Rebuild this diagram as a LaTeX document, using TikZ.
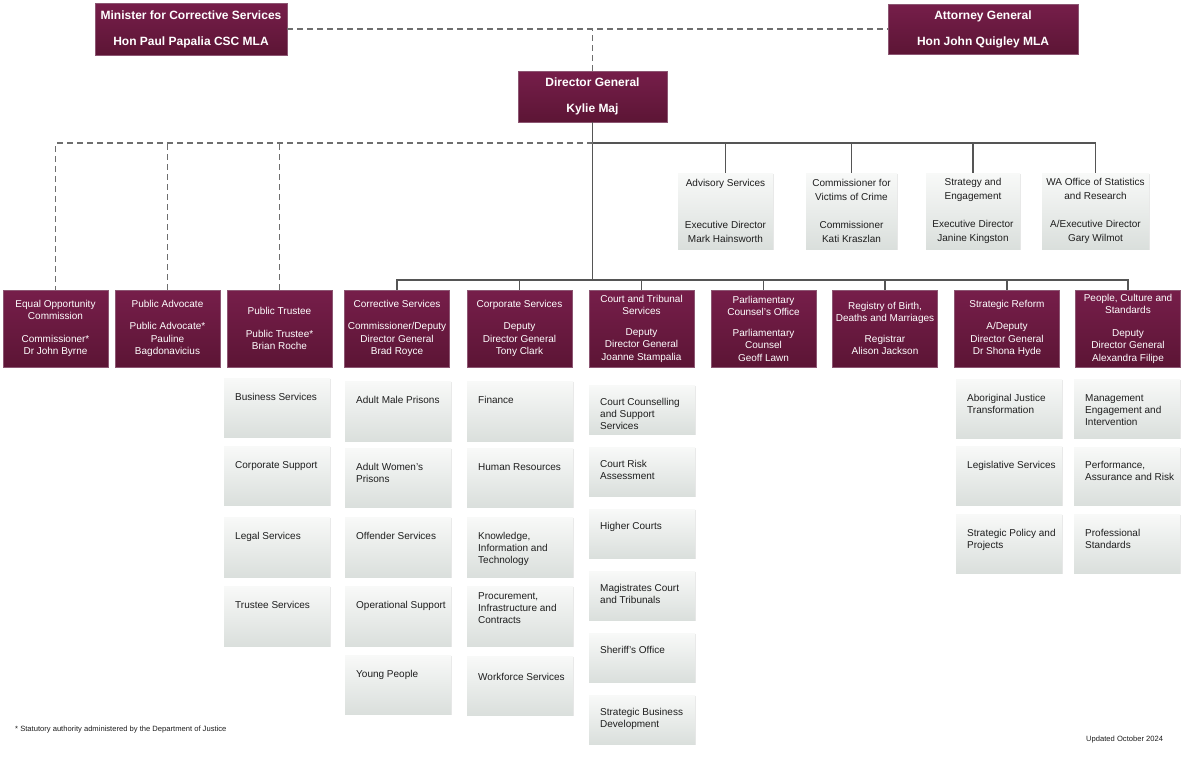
\documentclass[tikz,border=0pt]{standalone}
\usepackage{fontspec}
\setmainfont{Liberation Sans}
\usetikzlibrary{shadows}
\definecolor{maroonlight}{HTML}{761E4A}
\definecolor{maroondark}{HTML}{5C1535}
\definecolor{maroonedge}{HTML}{8C5672}
\definecolor{unitlight}{HTML}{F8F9F8}
\definecolor{unitdark}{HTML}{DADFDC}
\definecolor{linegray}{HTML}{555555}
\definecolor{dashgray}{HTML}{6E6E6E}
\definecolor{textdark}{HTML}{1E1E1E}
\tikzset{
  topbox/.style={
    rectangle, draw=maroonedge, line width=0.5pt,
    top color=maroonlight, bottom color=maroondark,
    text=white, align=center, inner sep=1pt,
    font=\bfseries\fontsize{12}{14}\selectfont
  },
  leadbox/.style={
    rectangle, draw=maroonedge, line width=0.5pt,
    top color=maroonlight, bottom color=maroondark,
    text=white, align=center, inner sep=1pt,
    minimum width=105pt, minimum height=77pt,
    font=\fontsize{10}{12.5}\selectfont
  },
  advbox/.style={
    rectangle, top color=unitlight, bottom color=unitdark,
    drop shadow={shadow xshift=1.2pt, shadow yshift=-1.2pt, opacity=0.18},
    text=textdark, align=center, inner sep=1pt, minimum height=76pt,
    font=\fontsize{10}{14}\selectfont
  },
  unitbox/.style={
    rectangle, anchor=north west, top color=unitlight, bottom color=unitdark,
    drop shadow={shadow xshift=1.2pt, shadow yshift=-1.2pt, opacity=0.18},
    text=textdark, inner sep=0pt,
    font=\fontsize{10}{12}\selectfont
  },
  link/.style={draw=linegray, line width=1.2pt},
  dashlink/.style={draw=dashgray, line width=1.2pt, dash pattern=on 6pt off 4pt},
  note/.style={anchor=west, inner sep=0pt, text=textdark, font=\fontsize{7.6}{9}\selectfont}
}
\newcommand{\unitlbl}[3][15pt]{\parbox[c][#2][t]{106pt}{\raggedright\leftskip=11pt\vspace*{#1}#3}}

\begin{document}
\begin{tikzpicture}[x=1pt, y=-1pt]
\fill[white, use as bounding box] (0,0) rectangle (1189,756);
\node[topbox, minimum width=192pt, minimum height=52pt] (minister) at (191,29) {Minister for Corrective Services\\[12pt]Hon Paul Papalia CSC MLA};
\node[topbox, minimum width=190pt, minimum height=50pt] (attorney) at (983,29) {Attorney General\\[12pt]Hon John Quigley MLA};
\node[topbox, minimum width=149pt, minimum height=51pt] (dg) at (592.5,96.5) {Director General\\[12pt]Kylie Maj};
\coordinate (advbus) at (592.5,143);
\coordinate (leadbus) at (592.5,280);

\node[advbox, minimum width=95pt] (adv) at (725.5,211) {Advisory Services\\[28pt]Executive Director\\Mark Hainsworth};
\node[advbox, minimum width=91pt] (vic) at (851.5,211) {Commissioner for\\Victims of Crime\\[14pt]Commissioner\\Kati Kraszlan};
\node[advbox, minimum width=94pt] (strat) at (973,211) {Strategy and\\Engagement\\[14pt]Executive Director\\Janine Kingston};
\node[advbox, minimum width=107pt] (stats) at (1095.5,211) {WA Office of Statistics\\and Research\\[14pt]A/Executive Director\\Gary Wilmot};

\node[leadbox] (eoc) at (55.5,328.5) {Equal Opportunity\\Commission\\[10pt]Commissioner*\\Dr John Byrne};
\node[leadbox] (pubadv) at (167.5,328.5) {Public Advocate\\[10pt]Public Advocate*\\Pauline\\Bagdonavicius};
\node[leadbox] (pubtr) at (279.5,328.5) {Public Trustee\\[10pt]Public Trustee*\\Brian Roche};
\node[leadbox] (corr) at (397,328.5) {Corrective Services\\[10pt]Commissioner/Deputy\\Director General\\Brad Royce};
\node[leadbox] (corp) at (519.5,328.5) {Corporate Services\\[10pt]Deputy\\Director General\\Tony Clark};
\node[leadbox] (court) at (641.5,328.5) {Court and Tribunal\\Services\\[8pt]Deputy\\Director General\\Joanne Stampalia};
\node[leadbox] (parl) at (763.5,328.5) {Parliamentary\\Counsel's Office\\[8pt]Parliamentary\\Counsel\\Geoff Lawn};
\node[leadbox] (reg) at (885,328.5) {Registry of Birth,\\Deaths and Marriages\\[8pt]Registrar\\Alison Jackson};
\node[leadbox] (sref) at (1007,328.5) {Strategic Reform\\[10pt]A/Deputy\\Director General\\Dr Shona Hyde};
\node[leadbox] (pcs) at (1128,328.5) {People, Culture and\\Standards\\[10pt]Deputy\\Director General\\Alexandra Filipe};

\node[unitbox] (bizsvc) at (224,378) {\unitlbl{59pt}{Business Services}};
\node[unitbox] (corpsup) at (224,446) {\unitlbl{59pt}{Corporate Support}};
\node[unitbox] (legal) at (224,517) {\unitlbl{60pt}{Legal Services}};
\node[unitbox] (trustee) at (224,586) {\unitlbl{60pt}{Trustee Services}};

\node[unitbox] (male) at (345,381) {\unitlbl{60pt}{Adult Male Prisons}};
\node[unitbox] (women) at (345,448) {\unitlbl{59pt}{Adult Women's\\Prisons}};
\node[unitbox] (offender) at (345,517) {\unitlbl{60pt}{Offender Services}};
\node[unitbox] (opsup) at (345,586) {\unitlbl{60pt}{Operational Support}};
\node[unitbox] (young) at (345,655) {\unitlbl{59pt}{Young People}};

\node[unitbox] (finance) at (467,381) {\unitlbl{60pt}{Finance}};
\node[unitbox] (hr) at (467,448) {\unitlbl{59pt}{Human Resources}};
\node[unitbox] (kit) at (467,517) {\unitlbl{60pt}{Knowledge,\\Information and\\Technology}};
\node[unitbox] (pic) at (467,586) {\unitlbl[6pt]{60pt}{Procurement,\\Infrastructure and\\Contracts}};
\node[unitbox] (workforce) at (467,656) {\unitlbl[17pt]{59pt}{Workforce Services}};

\node[unitbox] (counsel) at (589,385) {\unitlbl[13pt]{49pt}{Court Counselling\\and Support\\Services}};
\node[unitbox] (risk) at (589,447) {\unitlbl[13pt]{49pt}{Court Risk\\Assessment}};
\node[unitbox] (higher) at (589,509) {\unitlbl[13pt]{49pt}{Higher Courts}};
\node[unitbox] (mags) at (589,571) {\unitlbl[13pt]{49pt}{Magistrates Court\\and Tribunals}};
\node[unitbox] (sheriff) at (589,633) {\unitlbl[13pt]{49pt}{Sheriff's Office}};
\node[unitbox] (sbd) at (589,695) {\unitlbl[13pt]{49pt}{Strategic Business\\Development}};

\node[unitbox] (ajt) at (956,379) {\unitlbl{59pt}{Aboriginal Justice\\Transformation}};
\node[unitbox] (legis) at (956,446) {\unitlbl{59pt}{Legislative Services}};
\node[unitbox] (spp) at (956,514) {\unitlbl{59pt}{Strategic Policy and\\Projects}};

\node[unitbox] (mei) at (1074,379) {\unitlbl{59pt}{Management\\Engagement and\\Intervention}};
\node[unitbox] (par) at (1074,447) {\unitlbl[14pt]{58pt}{Performance,\\Assurance and Risk}};
\node[unitbox] (prof) at (1074,514) {\unitlbl{59pt}{Professional\\Standards}};

\node[note] (statnote) at (15,730) {* Statutory authority administered by the Department of Justice};
\node[note] (updnote) at (1086,740) {Updated October 2024};

\draw[dashlink] (minister.east) -- (attorney.west);
\draw[dashlink] (dg.north) -- (dg.north |- minister.east);
\draw[link] (dg.south) -- (leadbus);
\draw[link] (advbus) -| (stats.north);
\draw[link] (adv.north) -- (adv.north |- advbus);
\draw[link] (vic.north) -- (vic.north |- advbus);
\draw[link] (strat.north) -- (strat.north |- advbus);
\draw[dashlink] (advbus) -| (eoc.north);
\draw[dashlink] (pubadv.north) -- (pubadv.north |- advbus);
\draw[dashlink] (pubtr.north) -- (pubtr.north |- advbus);
\draw[link] (corr.north) |- (pcs.north |- leadbus) -- (pcs.north);
\draw[link] (corp.north) -- (corp.north |- leadbus);
\draw[link] (court.north) -- (court.north |- leadbus);
\draw[link] (parl.north) -- (parl.north |- leadbus);
\draw[link] (reg.north) -- (reg.north |- leadbus);
\draw[link] (sref.north) -- (sref.north |- leadbus);
\end{tikzpicture}
\end{document}
